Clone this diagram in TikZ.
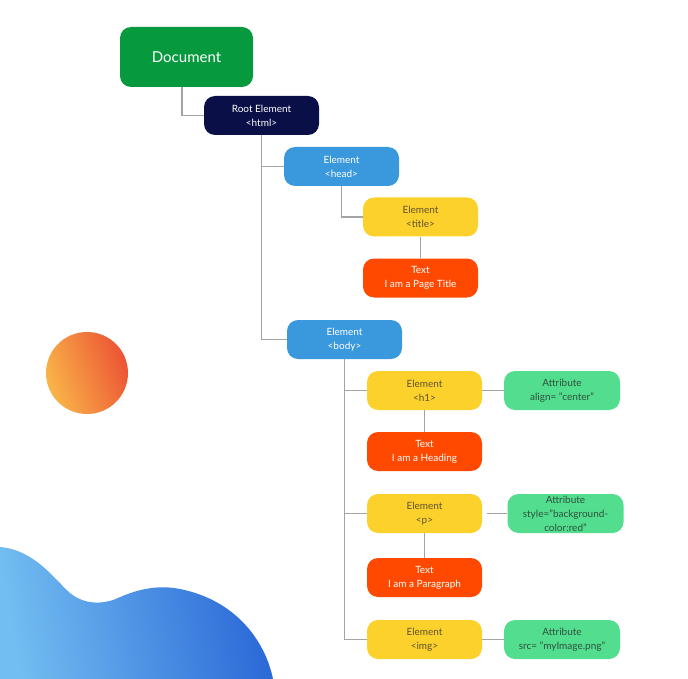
\documentclass[tikz,border=0pt]{standalone}
\usepackage{fontspec}
\setmainfont{Lato}
\usepackage{tikz}

\definecolor{docgreen}{HTML}{07993D}
\definecolor{rootnavy}{HTML}{0A0F48}
\definecolor{elblue}{HTML}{3A98DD}
\definecolor{elyellow}{HTML}{FDD12C}
\definecolor{txtred}{HTML}{FF4900}
\definecolor{attrgreen}{HTML}{52DE8E}
\definecolor{linegray}{HTML}{A4A4A4}
\definecolor{yelltext}{HTML}{5E5331}
\definecolor{attrtext}{HTML}{2F513C}
\definecolor{sunlight}{HTML}{F9B549}
\definecolor{sundark}{HTML}{EC5434}
\definecolor{wavelight}{HTML}{72BDF1}
\definecolor{wavedark}{HTML}{2A68D7}

\begin{document}
\begin{tikzpicture}[x=1pt,y=-1pt,
	box/.style={rounded corners=11pt,minimum width=115pt,minimum height=39pt,
		align=center,font=\fontsize{10}{14}\selectfont,inner sep=0pt},
	docbox/.style={box,fill=docgreen,text=white,minimum width=133pt,minimum height=60pt,
		font=\fontsize{15}{18}\selectfont},
	rootbox/.style={box,fill=rootnavy,text=white},
	elbox/.style={box,fill=elblue,text=white},
	tagbox/.style={box,fill=elyellow,text=yelltext},
	textbox/.style={box,fill=txtred,text=white},
	attrbox/.style={box,fill=attrgreen,text=attrtext,minimum width=116pt},
	link/.style={draw=linegray,line width=1.6pt}]
	\useasboundingbox (0,0) rectangle (688,679);
	% background shapes
	\shade[left color=wavelight,right color=wavedark,shading angle=100]
		(0,547) .. controls (35,550) and (55,580) .. (70,593)
		.. controls (82,603) and (100,606) .. (118,598)
		.. controls (140,588) and (160,585) .. (180,589)
		.. controls (235,600) and (265,640) .. (273,679) -- (0,679) -- cycle;
	\shade[left color=sunlight,right color=sundark,shading angle=110]
		(87,373) circle (41);
	% tree
	\node[docbox]  (doc)   at (186.5,57)   {Document};
	\node[rootbox] (root)  at (261.5,115.5) {Root Element\\<html>};
	\node[elbox]   (head)  at (341.5,166.5) {Element\\<head>};
	\node[tagbox]  (title) at (420.5,217)   {Element\\<title>};
	\node[textbox] (ttext) at (420.5,278)   {Text\\I am a Page Title};
	\node[elbox]   (body)  at (344.5,339.5) {Element\\<body>};
	\node[tagbox]  (hone)  at (424.5,390.5) {Element\\<h1>};
	\node[attrbox] (halign) at (562,390.5)  {Attribute\\align= "center"};
	\node[textbox] (htext) at (424.5,451.5) {Text\\I am a Heading};
	\node[tagbox]  (para)  at (424.5,513.5) {Element\\<p>};
	\node[attrbox] (pstyle) at (565.5,513.5) {Attribute\\style="background-\\color:red"};
	\node[textbox] (ptext) at (424.5,577.5) {Text\\I am a Paragraph};
	\node[tagbox]  (img)   at (424.5,639.5) {Element\\<img>};
	\node[attrbox] (isrc)  at (562,639.5)   {Attribute\\src= "myImage.png"};
	% connectors
	\begin{scope}[on background layer/.try]
	\draw[link] ([xshift=-4.5pt]doc.south) |- (root.west);
	\draw[link] (root.south) |- (head.west);
	\draw[link] (root.south) |- (body.west);
	\draw[link] (head.south) |- (title.west);
	\draw[link] (title.south) -- (ttext.north);
	\draw[link] (body.south) |- (hone.west);
	\draw[link] (body.south) |- (para.west);
	\draw[link] (body.south) |- (img.west);
	\draw[link] (hone.south) -- (htext.north);
	\draw[link] (para.south) -- (ptext.north);
	\draw[link] (hone.east) -- (halign.west);
	\draw[link,shorten <=5pt] (para.east) -- (pstyle.west);
	\draw[link] (img.east) -- (isrc.west);
	\end{scope}
\end{tikzpicture}
\end{document}
